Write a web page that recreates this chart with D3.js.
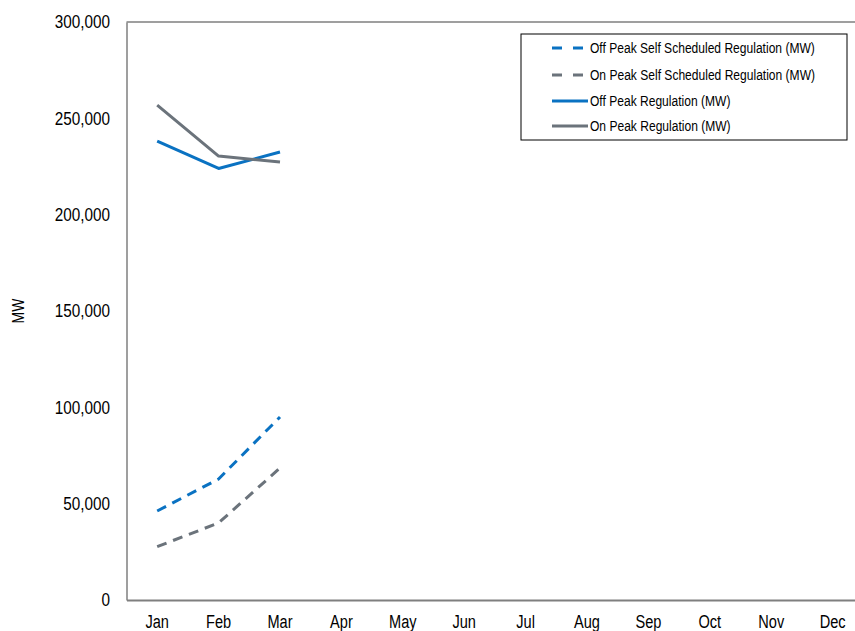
<!DOCTYPE html>
<html>
<head>
<meta charset="utf-8">
<script src="https://cdn.jsdelivr.net/npm/d3@7"></script>
<style>
  html, body { margin: 0; padding: 0; background: #fff; }
  svg { display: block; font-family: "Liberation Sans", Arial, sans-serif; }
</style>
</head>
<body>
<svg id="chart" width="855" height="631"></svg>
<script>
const months = ["Jan","Feb","Mar","Apr","May","Jun","Jul","Aug","Sep","Oct","Nov","Dec"];
const yTicks = [0, 50000, 100000, 150000, 200000, 250000, 300000];

const offPeakSelfScheduled = [46200, 62800, 95000];
const onPeakSelfScheduled  = [27700, 40000, 68500];
const offPeakRegulation    = [238200, 224000, 232500];
const onPeakRegulation     = [256900, 230400, 227300];

const seriesNames = [
  "Off Peak Self Scheduled Regulation (MW)",
  "On Peak Self Scheduled Regulation (MW)",
  "Off Peak Regulation (MW)",
  "On Peak Regulation (MW)"
];
const blue = "#0A72C2", gray = "#6B737B";
const FONT = "'Liberation Sans', Arial, sans-serif";

const series = [
  { name: seriesNames[0], values: offPeakSelfScheduled, color: blue, dash: "10,7" },
  { name: seriesNames[1], values: onPeakSelfScheduled,  color: gray, dash: "10,7" },
  { name: seriesNames[2], values: offPeakRegulation,    color: blue, dash: null },
  { name: seriesNames[3], values: onPeakRegulation,     color: gray, dash: null }
];

// condense text horizontally (narrow typeface look)
function condense(sel, k) {
  sel.each(function () {
    const w = this.getComputedTextLength();
    d3.select(this).attr("textLength", w * k).attr("lengthAdjust", "spacingAndGlyphs");
  });
}

const svg = d3.select("#chart");
const margin = { left: 126.5, top: 22, bottom: 31 };
const plotW = 61.4 * 12;
const H = 631;

const x = d3.scaleBand().domain(months).range([margin.left, margin.left + plotW]);
const y = d3.scaleLinear().domain([0, 300000]).range([H - margin.bottom, margin.top]);

// plot frame (top border)
svg.append("line")
  .attr("x1", margin.left).attr("x2", margin.left + plotW)
  .attr("y1", y(300000)).attr("y2", y(300000))
  .attr("stroke", "#7f7f7f").attr("stroke-width", 1.3);

// y axis
const yAxis = svg.append("g")
  .attr("transform", `translate(${margin.left},0)`)
  .call(d3.axisLeft(y).tickValues(yTicks).tickSize(0).tickPadding(16.5)
    .tickFormat(d3.format(",")));
yAxis.select(".domain").attr("stroke", "#7f7f7f").attr("stroke-width", 1.5);
yAxis.selectAll("text").attr("font-size", 18).attr("fill", "#000")
  .style("font-family", FONT).call(condense, 0.85);

// x axis
const xAxis = svg.append("g")
  .attr("transform", `translate(0,${y(0)})`)
  .call(d3.axisBottom(x).tickSize(0).tickPadding(15));
xAxis.select(".domain").attr("stroke", "#7f7f7f").attr("stroke-width", 2);
xAxis.selectAll("text").attr("font-size", 18).attr("fill", "#000")
  .style("font-family", FONT).call(condense, 0.81);

// y axis title
svg.append("text")
  .attr("transform", `translate(24,${(y(0) + y(300000)) / 2}) rotate(-90)`)
  .attr("text-anchor", "middle")
  .attr("font-size", 17)
  .text("MW")
  .call(condense, 0.82);

// series lines
const line = d3.line()
  .x((d, i) => x(months[i]) + x.bandwidth() / 2)
  .y(d => y(d));

series.forEach(s => {
  svg.append("path")
    .datum(s.values)
    .attr("d", line)
    .attr("fill", "none")
    .attr("stroke", s.color)
    .attr("stroke-width", 3)
    .attr("stroke-dasharray", s.dash)
    .attr("stroke-linejoin", "round");
});

// legend
const lg = svg.append("g").attr("transform", "translate(521,34)");
lg.append("rect").attr("width", 326).attr("height", 106)
  .attr("fill", "#fff").attr("stroke", "#000").attr("stroke-width", 1);
const rowY = [14, 41, 67, 92];
series.forEach((s, i) => {
  const ry = rowY[i];
  lg.append("line")
    .attr("x1", 31).attr("x2", s.dash ? 62 : 67)
    .attr("y1", ry).attr("y2", ry)
    .attr("stroke", s.color).attr("stroke-width", 3)
    .attr("stroke-dasharray", s.dash ? "10,11" : null);
  lg.append("g")
    .attr("transform", `translate(69,${ry}) scale(0.82,1)`)
    .append("text")
    .attr("dy", "0.36em")
    .attr("font-size", 14.7)
    .text(s.name);
});
</script>
</body>
</html>
